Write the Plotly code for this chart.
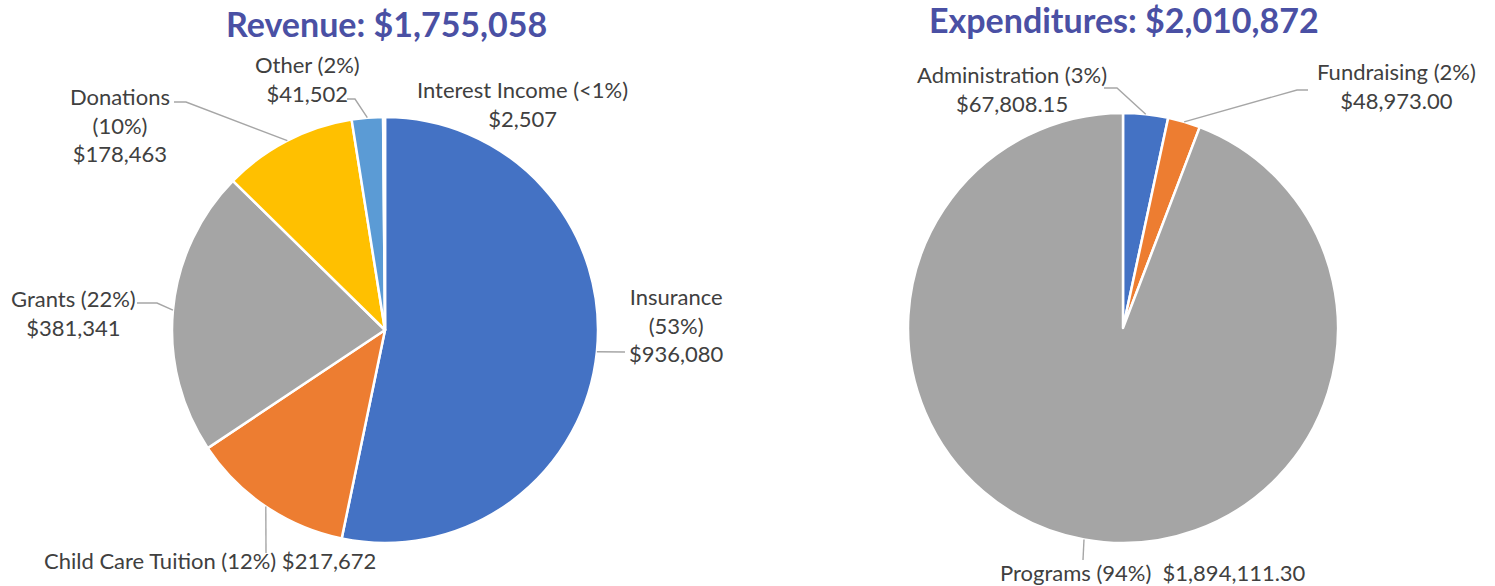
import math
import plotly.graph_objects as go

# ---------------- data ----------------
rev_categories = ["Insurance", "Child Care Tuition", "Grants", "Donations", "Other", "Interest Income"]
rev_values = [936080, 217672, 381341, 178463, 41502, 2507]
rev_title = "Revenue: $1,755,058"

exp_categories = ["Administration", "Fundraising", "Programs"]
exp_values = [67808.15, 48973.00, 1894111.30]
exp_title = "Expenditures: $2,010,872"

# ---------------- styles / layout ----------------
W, H = 1495, 586
rev_colors = ["#4472C4", "#ED7D31", "#A5A5A5", "#FFC000", "#5B9BD5", "#70AD47"]
exp_colors = ["#4472C4", "#ED7D31", "#A5A5A5"]
TXT = "#404040"
LINE = "#A6A6A6"
TITLE_C = "#4A50A4"
FONT = "Lato"
LAB_SIZE = 22
TITLE_SIZE = 34

rev_center, rev_r = (385, 330), 213
exp_center, exp_r = (1123, 328), 215

# label templates and their centres (px)
rev_tpl = ["{n}<br>({p})<br>{v}", "{n} ({p}) {v}", "{n} ({p})<br>{v}",
           "{n}<br>({p})<br>{v}", "{n} ({p})<br>{v}", "{n} ({p})<br>{v}"]
rev_lab_pos = [(676, 325), (210, 560), (73, 313), (120, 125), (307, 79), (522, 104)]
rev_elbow = [[(625, 352)], [(266, 553)], [(137, 303), (157, 303)],
             [(174, 102), (186, 102)], [(347, 99), (355, 99)], None]

exp_tpl = ["{n} ({p})<br>{v}", "{n} ({p})<br>{v}", "{n} ({p})  {v}"]
exp_lab_pos = [(1012, 89), (1396, 86), (1153, 572)]
exp_elbow = [[(1104, 88), (1117, 88)], [(1308, 90), (1297, 90)], [(1083, 560)]]


def px(x, y):
    return x / W, 1 - y / H


def domain(center, r):
    cx, cy = center
    return dict(x=[(cx - r) / W, (cx + r) / W], y=[(H - cy - r) / H, (H - cy + r) / H])


def pct_str(v, tot):
    p = v / tot * 100
    return "<1%" if p < 1 else f"{round(p):d}%"


fig = go.Figure()
fig.add_trace(go.Pie(labels=rev_categories, values=rev_values, sort=False, direction="clockwise",
                     rotation=0, marker=dict(colors=rev_colors, line=dict(color="white", width=2.5)),
                     textinfo="none", domain=domain(rev_center, rev_r), showlegend=False))
fig.add_trace(go.Pie(labels=exp_categories, values=exp_values, sort=False, direction="clockwise",
                     rotation=0, marker=dict(colors=exp_colors, line=dict(color="white", width=2.5)),
                     textinfo="none", domain=domain(exp_center, exp_r), showlegend=False))

annotations = []
shapes = []


def add_labels(cats, vals, tpls, poss, elbows, center, r, decimals):
    tot = sum(vals)
    cum = 0
    for c, v, t, pos, el in zip(cats, vals, tpls, poss, elbows):
        mid = (cum + v / 2) / tot * 2 * math.pi
        cum += v
        vstr = f"${v:,.{decimals}f}"
        text = t.format(n=c, p=pct_str(v, tot), v=vstr)
        x, y = px(*pos)
        annotations.append(dict(x=x, y=y, xref="paper", yref="paper", text=text, showarrow=False,
                                xanchor="center", yanchor="middle", align="center",
                                font=dict(family=FONT, size=LAB_SIZE, color=TXT)))
        if el:
            ex = center[0] + r * math.sin(mid)
            ey = center[1] - r * math.cos(mid)
            pts = el + [(ex, ey)]
            path = "M " + " L ".join(f"{px(a, b)[0]},{px(a, b)[1]}" for a, b in pts)
            shapes.append(dict(type="path", xref="paper", yref="paper", path=path,
                               line=dict(color=LINE, width=1.4)))


add_labels(rev_categories, rev_values, rev_tpl, rev_lab_pos, rev_elbow, rev_center, rev_r, 0)
add_labels(exp_categories, exp_values, exp_tpl, exp_lab_pos, exp_elbow, exp_center, exp_r, 2)

for title, (tx, ty) in [(rev_title, (386, 24)), (exp_title, (1124, 20))]:
    x, y = px(tx, ty)
    annotations.append(dict(x=x, y=y, xref="paper", yref="paper", text=f"<b>{title}</b>",
                            showarrow=False, xanchor="center", yanchor="middle",
                            font=dict(family=FONT, size=TITLE_SIZE, color=TITLE_C)))

fig.update_layout(width=W, height=H, margin=dict(l=0, r=0, t=0, b=0),
                  paper_bgcolor="white", plot_bgcolor="white",
                  annotations=annotations, shapes=shapes)

fig.write_html("out.html", config={"displayModeBar": False},
               post_script="document.body.style.margin='0';document.body.style.padding='0';")
